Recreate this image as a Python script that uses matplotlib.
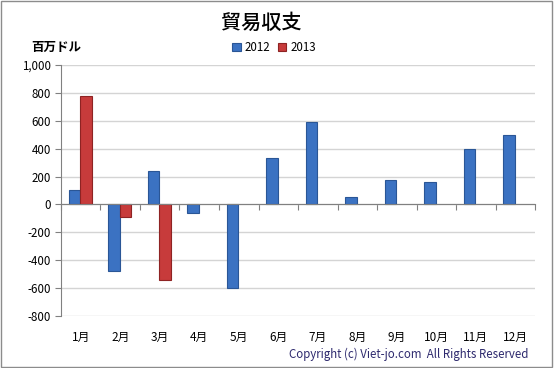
import numpy as np
import matplotlib
matplotlib.use("Agg")
import matplotlib.pyplot as plt
from matplotlib.patches import Rectangle
from matplotlib.ticker import FuncFormatter
import matplotlib.transforms as mtransforms

plt.rcParams['font.family'] = ['Noto Sans CJK JP', 'DejaVu Sans']

months = ["1月", "2月", "3月", "4月", "5月", "6月", "7月", "8月", "9月", "10月", "11月", "12月"]
series_names = ["2012", "2013"]
values_2012 = [100, -480, 237, -60, -600, 330, 588, 55, 178, 163, 400, 500]
values_2013 = [780, -90, -543, np.nan, np.nan, np.nan, np.nan, np.nan, np.nan, np.nan, np.nan, np.nan]
yticks = [-800, -600, -400, -200, 0, 200, 400, 600, 800, 1000]

fig = plt.figure(figsize=(5.54, 3.68), dpi=100)
fig.patches.append(Rectangle((0.002, 0.003), 0.995, 0.993, transform=fig.transFigure,
                             fill=False, edgecolor='#8c8c8c', linewidth=1.0))
ax = fig.add_axes([0.110, 0.1413, 0.856, 0.6821])

x = np.arange(len(months))
w = 0.29
b1 = ax.bar(x - 0.16, values_2012, width=w, color='#3b72c2', edgecolor='#2a5696', linewidth=0.8,
            label=series_names[0], zorder=3)
b2 = ax.bar(x + 0.13, values_2013, width=w, color='#c73b3b', edgecolor='#8e2323', linewidth=0.8,
            label=series_names[1], zorder=3)

ax.set_xlim(-0.5, 11.5)
ax.set_ylim(-800, 1000)
ax.set_yticks(yticks)
ax.yaxis.set_major_formatter(FuncFormatter(lambda v, p: f"{int(v):,}"))
ax.yaxis.grid(True, color='#d4d4d4', linewidth=1.0, zorder=0)
ax.set_axisbelow(True)

for s in ['top', 'right']:
    ax.spines[s].set_visible(False)
ax.spines['left'].set_color('#808080')
ax.spines['bottom'].set_position(('data', 0))
ax.spines['bottom'].set_color('#808080')
ax.spines['bottom'].set_zorder(4)

ax.set_xticks(np.arange(-0.5, 12, 1.0))
ax.set_xticklabels([])
ax.tick_params(axis='x', direction='out', length=4, color='#808080')
ax.tick_params(axis='y', direction='out', length=4, color='#808080', labelsize=8.3, pad=3)

trans = mtransforms.blended_transform_factory(ax.transData, ax.transAxes)
for i, m in enumerate(months):
    ax.text(i, -0.085, m, transform=trans, ha='center', va='center', fontsize=8.5)

fig.text(0.471, 0.937, "貿易収支", ha='center', va='center', fontsize=14.5, fontweight='medium')
fig.text(0.056, 0.870, "百万ドル", ha='left', va='center', fontsize=9, fontweight='bold')

fig.legend(handles=[b1, b2], labels=series_names, loc='center', bbox_to_anchor=(0.495, 0.870),
           ncol=2, frameon=False, fontsize=8.3, handlelength=0.7, handleheight=0.7,
           handletextpad=0.35, columnspacing=0.7)

fig.text(0.953, 0.038, "Copyright (c) Viet-jo.com  All Rights Reserved", ha='right', va='center',
         fontsize=8.3, color='#2e2a6e')

fig.savefig("out.png", dpi=100)
